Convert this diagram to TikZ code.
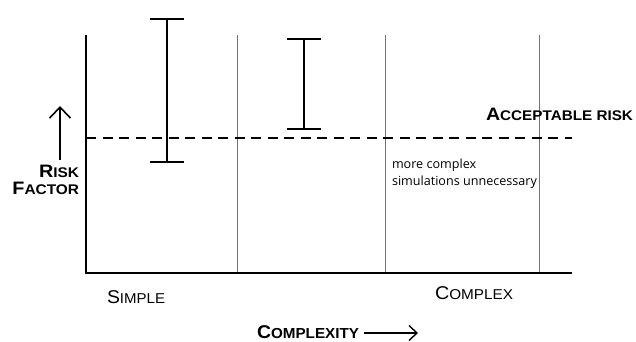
\documentclass[tikz,border=0pt]{standalone}
\usepackage{fontspec}
\setmainfont{Liberation Sans}
\newfontfamily\notefont{Open Sans}
\usetikzlibrary{arrows.meta}
\newcommand\fakesc[5]{\scalebox{#5}[1]{{\fontsize{#1}{#1}\selectfont #3}{\fontsize{#2}{#2}\selectfont #4}}}
\tikzset{
  axisline/.style={line width=1.5pt, black},
  sepline/.style={line width=0.8pt, black!55},
  errbar/.style={line width=1.5pt, black},
  riskline/.style={line width=1.2pt, dash pattern=on 10pt off 6.5pt},
  lbl/.style={inner sep=0pt, outer sep=0pt},
  barb/.style={-{Straight Barb[length=11pt,width=21pt,line width=1.6pt]}, line width=1.6pt},
  barbsmall/.style={-{Straight Barb[length=8pt,width=15pt,line width=1.4pt]}, line width=1.4pt}
}
\begin{document}
\begin{tikzpicture}[x=1pt,y=-1pt]
\useasboundingbox (0,0) rectangle (636,342);
% separators
\draw[sepline] (237,35) -- (237,273);
\draw[sepline] (385,35) -- (385,273);
\draw[sepline] (539,35) -- (539,273);
% axes
\draw[axisline] (86,35) -- (86,273) -- (572,273);
% acceptable risk line
\draw[riskline] (86,138) -- (572,138);
% error bars
\draw[errbar] (167,19) -- (167,162);
\draw[errbar] (150,19) -- (184,19);
\draw[errbar] (150,162) -- (184,162);
\draw[errbar] (304,39) -- (304,129);
\draw[errbar] (287,39) -- (321,39);
\draw[errbar] (287,129) -- (321,129);
% labels
\node[lbl, anchor=base east] (risk) at (79,177) {\bfseries\fakesc{18}{14}{R}{ISK}{1.1}};
\node[lbl, anchor=base east] (factor) at (79,194) {\bfseries\fakesc{18}{14}{F}{ACTOR}{1.1}};
\coordinate (upfoot) at (60,160);
\coordinate (uphead) at (60,106);
\draw[barb] (upfoot) -- (uphead);
\node[lbl, anchor=base west] (acc) at (486,120) {\bfseries\fakesc{18}{14}{A}{CCEPTABLE RISK}{1.09}};
\node[lbl, anchor=base west] (simple) at (107,303) {\fakesc{18.5}{14.3}{S}{IMPLE}{1.05}};
\node[lbl, anchor=base west] (complex) at (435,299) {\fakesc{18.5}{14.3}{C}{OMPLEX}{1.07}};
\node[lbl, anchor=base west] (cplx) at (257,338) {\bfseries\fakesc{18.5}{14.5}{C}{OMPLEXITY}{1.05}};
\coordinate (cfoot) at (364,333);
\coordinate (chead) at (418,333);
\draw[barbsmall] (cfoot) -- (chead);
\node[lbl, anchor=base west, align=left, font=\notefont\fontsize{12.6}{17}\selectfont] (note) at (392,185) {more complex\\simulations unnecessary};
\end{tikzpicture}
\end{document}
